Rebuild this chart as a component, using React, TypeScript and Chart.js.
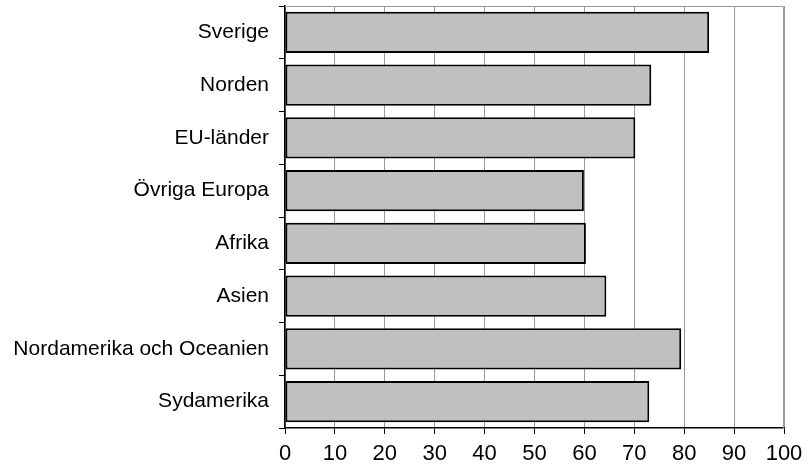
import React, { useEffect, useRef } from "react";
import { Chart, registerables } from "chart.js";

Chart.register(...registerables);

const categories = [
  "Sverige",
  "Norden",
  "EU-länder",
  "Övriga Europa",
  "Afrika",
  "Asien",
  "Nordamerika och Oceanien",
  "Sydamerika",
];
const values = [85.0, 73.4, 70.2, 59.9, 60.3, 64.4, 79.4, 73.0];
const xTicks = [0, 10, 20, 30, 40, 50, 60, 70, 80, 90, 100];

// gray frame on top/right of plot area
const frame = {
  id: "frame",
  beforeDatasetsDraw(chart: any) {
    const { ctx, chartArea: a } = chart;
    ctx.save();
    ctx.strokeStyle = "#999";
    ctx.lineWidth = 1;
    ctx.beginPath();
    ctx.moveTo(a.left, a.top + 0.5);
    ctx.lineTo(a.right - 0.5, a.top + 0.5);
    ctx.lineTo(a.right - 0.5, a.bottom);
    ctx.stroke();
    ctx.restore();
  },
};

export default function App() {
  const ref = useRef<HTMLCanvasElement>(null);
  useEffect(() => {
    if (!ref.current) return;
    const chart = new Chart(ref.current, {
      type: "bar",
      data: {
        labels: categories,
        datasets: [
          {
            data: values,
            backgroundColor: "#c0c0c0",
            borderColor: "#000",
            borderWidth: 2,
            borderSkipped: false,
            categoryPercentage: 0.78,
            barPercentage: 1,
          },
        ],
      },
      options: {
        indexAxis: "y",
        animation: false,
        responsive: false,
        layout: { padding: { top: 6, right: 23, left: 0, bottom: 0 } },
        plugins: { legend: { display: false }, tooltip: { enabled: false } },
        scales: {
          x: {
            min: 0,
            max: 100,
            afterBuildTicks: (s: any) => {
              s.ticks = xTicks.map((v) => ({ value: v }));
            },
            afterFit: (s: any) => {
              s.height = 42;
              s.paddingRight = 0;
              s.paddingLeft = 0;
            },
            grid: { color: "#999", tickColor: "#000", tickLength: 6, lineWidth: 1 },
            border: { color: "#000", width: 1.5 },
            ticks: {
              color: "#000",
              font: { family: "Liberation Sans", size: 22 },
              padding: 7,
              maxRotation: 0,
              autoSkip: false,
            },
          },
          y: {
            afterFit: (s: any) => {
              s.width = 285;
              s.paddingTop = 0;
              s.paddingBottom = 0;
            },
            grid: {
              offset: true,
              drawOnChartArea: false,
              tickColor: "#000",
              tickLength: 6,
            },
            border: { color: "#000", width: 1.5 },
            ticks: {
              color: "#000",
              font: { family: "Liberation Sans", size: 21 },
              padding: 10,
            },
          },
        },
      },
      plugins: [frame],
    } as any);
    return () => chart.destroy();
  }, []);
  return (
    <div style={{ position: "fixed", left: 0, top: 0, width: 807, height: 470, background: "#fff" }}>
      <canvas ref={ref} width={807} height={470} />
    </div>
  );
}
